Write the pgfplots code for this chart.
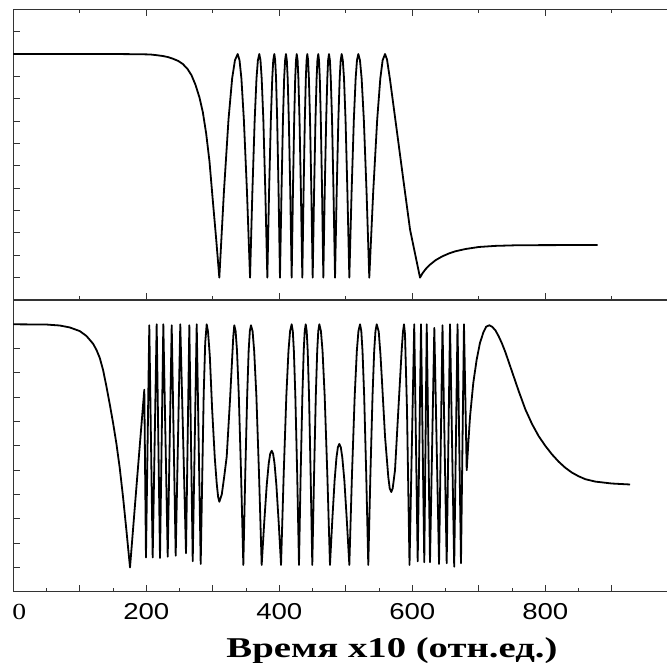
\documentclass[border=0pt]{standalone}
\usepackage{pgfplots}
\pgfplotsset{compat=1.18}
\usepackage{fontspec}
\setmainfont{Liberation Serif}
\newfontfamily\tickfont[FakeStretch=1.2]{Liberation Sans}
\newfontfamily\zerofont[FakeStretch=1.2]{Liberation Serif}
\newfontfamily\labelfont[FakeStretch=1.35]{Liberation Serif}

\pgfplotsset{
  panel/.style={
    scale only axis,
    width=653.7pt,
    xmin=0, xmax=983,
    axis x line*=box,
    axis y line*=left,
    tick align=inside,
    axis line style={black!80, line width=1.2pt},
    every tick/.style={black!80, line width=1.1pt},
    yticklabels={},
    major tick length=6.5pt,
    minor tick length=3.5pt,
  },
  curve/.style={black, line width=1.8pt, line join=round, no marks},
}

\begin{document}
\begin{tikzpicture}
\useasboundingbox (0,0) rectangle (667pt,663pt);

% upper panel
\begin{axis}[panel,
  at={(13.3pt,363pt)}, anchor=south west,
  height=290.7pt,
  ymin=-0.1, ymax=1.2,
  ytick={0,0.1,...,1.11},
  xtick={0,200,...,1000},
  minor x tick num=1,
  xtick pos=both,
  xticklabels={},
]
\addplot[curve] coordinates {
(0,1.0) (150,1.0) (190,0.999) (205.6,0.998) (215,0.995) (225,0.991) (233,0.986) (240,0.979) (248,0.969) (255,0.955) (262,0.933) (268,0.905) (274,0.862) (280,0.805) (285,0.74) (290,0.645) (295,0.52) (300,0.345) (305,0.175) (309.8,0)
(316.7,0.383) (323.6,0.707) (329.1,0.891) (333.3,0.972) (337.4,1)
(340.2,0.972) (343.0,0.891) (346.7,0.707) (351.4,0.383) (356.0,0)
(359.5,0.383) (363.0,0.707) (365.7,0.891) (367.8,0.972) (369.9,1)
(371.7,0.972) (373.5,0.891) (376.0,0.707) (379.0,0.383) (382.0,0)
(384.6,0.383) (387.3,0.707) (389.4,0.891) (390.9,0.972) (392.5,1)
(393.8,0.972) (395.1,0.891) (396.8,0.707) (398.9,0.383) (401.0,0)
(403.3,0.383) (405.5,0.707) (407.3,0.891) (408.7,0.972) (410.0,1)
(411.3,0.972) (412.6,0.891) (414.3,0.707) (416.5,0.383) (418.6,0)
(420.5,0.383) (422.4,0.707) (423.9,0.891) (425.1,0.972) (426.2,1)
(427.5,0.972) (428.7,0.891) (430.4,0.707) (432.5,0.383) (434.6,0)
(436.5,0.383) (438.4,0.707) (439.9,0.891) (441.0,0.972) (442.1,1)
(443.3,0.972) (444.5,0.891) (446.2,0.707) (448.2,0.383) (450.2,0)
(452.3,0.383) (454.4,0.707) (456.1,0.891) (457.3,0.972) (458.6,1)
(459.7,0.972) (460.9,0.891) (462.4,0.707) (464.3,0.383) (466.2,0)
(468.3,0.383) (470.5,0.707) (472.2,0.891) (473.4,0.972) (474.7,1)
(476.1,0.972) (477.4,0.891) (479.3,0.707) (481.5,0.383) (483.8,0)
(486.3,0.383) (488.8,0.707) (490.8,0.891) (492.3,0.972) (493.8,1)
(495.5,0.972) (497.3,0.891) (499.6,0.707) (502.4,0.383) (505.3,0)
(508.7,0.383) (512.1,0.707) (514.8,0.891) (516.8,0.972) (518.8,1)
(521.3,0.972) (523.8,0.891) (527.1,0.707) (531.2,0.383) (535.3,0)
(541.2,0.383) (547.2,0.707) (551.9,0.891) (555.4,0.972) (559.0,1)
(562.0,0.975) (566.5,0.885) (576.5,0.662) (586.5,0.438) (596.6,0.215) (611.6,0)
(615,0.018) (620,0.038) (626.6,0.058) (635,0.078) (645,0.095) (655,0.108) (665,0.118) (680,0.128) (700,0.137) (725,0.142) (760,0.145) (878.8,0.146)
};
\end{axis}

% lower panel
\begin{axis}[panel,
  at={(13.3pt,71.3pt)}, anchor=south west,
  height=291.7pt,
  ymin=-0.1, ymax=1.1,
  ytick={0,0.1,...,1.01},
  xtick={0,100,...,900},
  minor x tick num=1,
  xtick pos=left,
  xticklabels={{\hspace*{12pt}\zerofont 0},,{\tickfont 200},,{\tickfont 400},,{\tickfont 600},,{\tickfont 800},},
  xticklabel style={anchor=base, yshift=-28.3pt, font=\fontsize{23}{24}\selectfont},
]
\addplot[curve] coordinates {
(0,1.0) (50,0.999) (70,0.995) (85,0.987) (100,0.972) (110,0.952) (120,0.92) (125,0.895) (130,0.862) (135,0.812) (140,0.745) (145,0.672) (150,0.595) (155,0.51) (160,0.41) (165,0.29) (170,0.155) (175.5,0.0)
(186.3,0.37) (197.0,0.731) (199.5,0.041)
(204.5,0.996) (209.6,0.041) (215.6,1.0) (220.6,0.039) (225.6,1.0) (232.2,0.044) (238.2,0.996) (244.2,0.048) (251.1,1.0) (259.7,0.058) (264.7,0.996) (269.8,0.025) (275.8,1.0) (281.8,0.014)
(286.3,0.711) (288.6,0.925) (290.8,1.0)
(292.8,0.97) (295.5,0.87) (299,0.65) (303,0.45) (305.9,0.345) (308,0.29) (309.8,0.27)
(313.5,0.30) (317,0.37) (320.9,0.455) (325.9,0.69) (330.8,0.95) (332.3,0.996)
(334.3,0.972) (336.4,0.891) (339.1,0.707) (342.5,0.383) (345.9,0.01)
(348.8,0.383) (351.7,0.707) (353.9,0.891) (355.7,0.972) (357.4,0.996)
(359.8,0.972) (362.2,0.891) (365.5,0.707) (369.5,0.383) (373.5,0.01)
(377.3,0.184) (381.1,0.339) (384.1,0.428) (386.3,0.467) (388.6,0.48)
(390.7,0.467) (392.8,0.428) (395.6,0.339) (399.1,0.184) (402.6,0.01)
(406.6,0.383) (410.6,0.707) (413.8,0.891) (416.2,0.972) (418.6,1)
(420.3,0.972) (421.9,0.891) (424.1,0.707) (426.9,0.383) (429.6,0.01)
(432.1,0.383) (434.7,0.707) (436.7,0.891) (438.2,0.972) (439.7,1)
(441.2,0.972) (442.7,0.891) (444.7,0.707) (447.1,0.383) (449.6,0.01)
(452.3,0.383) (454.9,0.707) (457.0,0.891) (458.6,0.972) (460.2,1)
(462.6,0.972) (465.0,0.891) (468.2,0.707) (472.2,0.383) (476.2,0.01)
(479.7,0.195) (483.2,0.359) (486.0,0.453) (488.1,0.494) (490.2,0.508)
(492.5,0.494) (494.7,0.453) (497.8,0.359) (501.5,0.195) (505.3,0.01)
(509.3,0.383) (513.4,0.707) (516.6,0.891) (519.0,0.972) (521.4,1)
(523.3,0.972) (525.1,0.891) (527.6,0.707) (530.7,0.383) (533.8,0.01)
(537.0,0.383) (540.2,0.707) (542.7,0.891) (544.6,0.972) (546.5,1)
(549.5,0.97) (552,0.88) (554,0.786) (559,0.538) (563.9,0.372) (566,0.325) (568.4,0.31)
(570.5,0.325) (574,0.40) (579,0.648) (584.1,0.897) (586,0.97) (587.5,1)
(589,0.96) (592,0.65) (595.8,0.01)
(602.9,1) (608.1,0.025) (613.1,1) (618.0,0.021) (621.7,1) (626.6,0.021) (633.1,0.985) (640.2,0.014) (645.4,0.996) (651.7,0.017) (656.7,1) (663.0,0.003) (668.0,1) (673.2,0.017) (677.7,1) (681.8,0.40)
(684.2,0.51) (686.8,0.62) (691.7,0.759) (696.8,0.855) (701.8,0.924) (706.8,0.966) (711,0.99) (715.8,0.996)
(720,0.99) (725,0.975) (730,0.95) (735,0.92) (740,0.885) (745,0.845) (750,0.805) (755,0.765) (760,0.725) (770,0.65) (780,0.59) (790,0.54) (800,0.5) (810,0.465) (820,0.435) (830,0.41) (840,0.39) (850,0.375) (860,0.363) (875,0.353) (900,0.345) (927.4,0.341)
};
\end{axis}

\node[anchor=base, inner sep=0pt, font=\fontsize{28.7}{30}\selectfont\labelfont\bfseries] at (392pt,5.7pt) {Время x10 (отн.ед.)};
\end{tikzpicture}
\end{document}
